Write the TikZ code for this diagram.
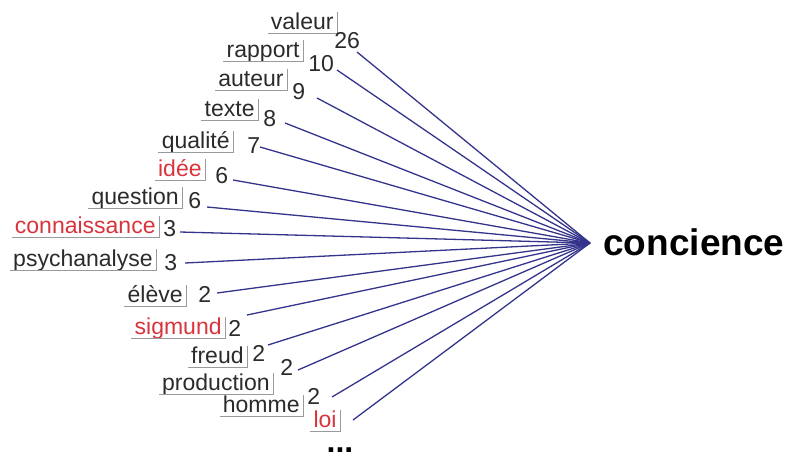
\documentclass[tikz,border=0pt]{standalone}
\usepackage{fontspec}
\setmainfont{Liberation Sans}
\usepackage{tikz}
\usetikzlibrary{positioning,calc}
\definecolor{ink}{HTML}{2B2B2B}
\definecolor{redword}{HTML}{D8343C}
\definecolor{navy}{HTML}{34348C}
\definecolor{brkgray}{HTML}{9A9A9A}
% word with its little corner bracket: name, colour, x, y, text
\newcommand{\tagword}[5]{%
  \node[word, text=#2, anchor=base east] (#1) at (#3,#4) {#5};
  \draw[brk] ([shift={(-3,4)}]#1.base west) -| ([shift={(3,-17)}]#1.base east);
}

\begin{document}
\begin{tikzpicture}[
  x=0.5pt, y=-0.5pt,
  word/.style={font=\fontsize{11.5}{12}\selectfont, inner sep=0pt},
  num/.style={font=\fontsize{11.5}{12}\selectfont, text=ink, inner sep=0pt, anchor=base west},
  brk/.style={draw=brkgray, line width=0.5pt},
  link/.style={draw=navy, line width=0.65pt}
]
  \useasboundingbox (0,0) rectangle (786,456);

  % target word
  \node[font=\fontsize{18.5}{20}\selectfont\bfseries, inner sep=0pt, anchor=base west] (target) at (603,255) {concience};
  \coordinate (hub) at (590,243);

  % --- upper fan
  \tagword{valeur}{ink}{334}{29}{valeur}
  \node[num] (n-valeur) at (334,48) {26};
  \coordinate (s-valeur) at (357,52);

  \tagword{rapport}{ink}{300}{57}{rapport}
  \node[num] (n-rapport) at (308,71) {10};
  \coordinate (s-rapport) at (337,70);

  \tagword{auteur}{ink}{284}{86}{auteur}
  \node[num] (n-auteur) at (292,99) {9};
  \coordinate (s-auteur) at (317,98);

  \tagword{texte}{ink}{255}{116}{texte}
  \node[num] (n-texte) at (263,126) {8};
  \coordinate (s-texte) at (285,123);

  \tagword{qualite}{ink}{230}{148}{qualité}
  \node[num] (n-qualite) at (247,153) {7};
  \coordinate (s-qualite) at (260,147);

  \tagword{idee}{redword}{202}{176}{idée}
  \node[num] (n-idee) at (215,183) {6};
  \coordinate (s-idee) at (233,180);

  \tagword{question}{ink}{179}{204}{question}
  \node[num] (n-question) at (188,208) {6};
  \coordinate (s-question) at (207,207);

  % --- middle
  \tagword{connaissance}{redword}{156}{233}{connaissance}
  \node[num] (n-connaissance) at (163,236) {3};
  \coordinate (s-connaissance) at (180,232);

  \tagword{psychanalyse}{ink}{153}{266}{psychanalyse}
  \node[num] (n-psychanalyse) at (164,270) {3};
  \coordinate (s-psychanalyse) at (185,263);

  % --- lower fan
  \tagword{eleve}{ink}{183}{302}{élève}
  \node[num] (n-eleve) at (198,302) {2};
  \coordinate (s-eleve) at (217,293);

  \tagword{sigmund}{redword}{222}{334}{sigmund}
  \node[num] (n-sigmund) at (228,336) {2};
  \coordinate (s-sigmund) at (247,315);

  \tagword{freud}{ink}{244}{363}{freud}
  \node[num] (n-freud) at (252,361) {2};
  \coordinate (s-freud) at (268,345);

  \tagword{production}{ink}{270}{390}{production}
  \node[num] (n-production) at (280,375) {2};
  \coordinate (s-production) at (298,370);

  \tagword{homme}{ink}{300}{412}{homme}
  \node[num] (n-homme) at (307,404) {2};
  \coordinate (s-homme) at (332,397);

  \tagword{loi}{redword}{337}{427}{loi}
  \coordinate (s-loi) at (353,420);

  \node[font=\fontsize{16}{16}\selectfont\bfseries, inner sep=0pt, anchor=base] (more) at (340,452) {...};

  % links to the target
  \draw[link] (s-valeur) -- (hub);
  \draw[link] (s-rapport) -- (hub);
  \draw[link] (s-auteur) -- (hub);
  \draw[link] (s-texte) -- (hub);
  \draw[link] (s-qualite) -- (hub);
  \draw[link] (s-idee) -- (hub);
  \draw[link] (s-question) -- (hub);
  \draw[link] (s-connaissance) -- (hub);
  \draw[link] (s-psychanalyse) -- (hub);
  \draw[link] (s-eleve) -- (hub);
  \draw[link] (s-sigmund) -- (hub);
  \draw[link] (s-freud) -- (hub);
  \draw[link] (s-production) -- (hub);
  \draw[link] (s-homme) -- (hub);
  \draw[link] (s-loi) -- (hub);
\end{tikzpicture}
\end{document}
